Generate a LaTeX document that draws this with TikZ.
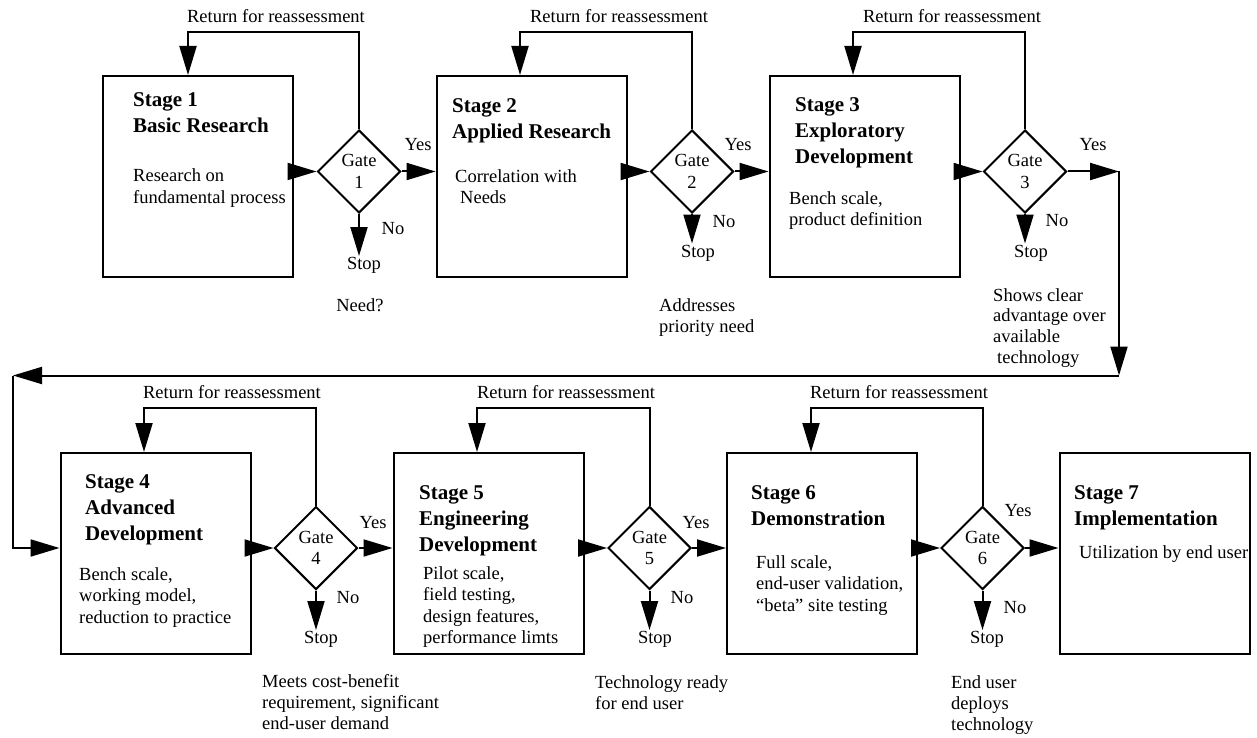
\documentclass[tikz,border=0pt]{standalone}
\usepackage{fontspec}
\setmainfont{Liberation Serif}
\usetikzlibrary{arrows.meta,shapes.geometric}
\newcommand{\mlines}[2][21.3]{{\fontsize{18.5}{#1}\selectfont\begin{tabular}[t]{@{}l@{}}#2\end{tabular}}}
\newcommand{\tlines}[1]{{\fontsize{21}{26}\selectfont\bfseries\begin{tabular}[t]{@{}l@{}}#1\end{tabular}}}
\tikzset{
  stagebox/.style={draw, line width=2pt, minimum width=190pt, minimum height=201pt, inner sep=0pt},
  gatebox/.style={diamond, draw, line width=2pt, minimum width=83pt, minimum height=83pt, inner sep=0pt, aspect=1, align=center, font=\fontsize{18.5}{21.3}\selectfont},
  arr/.style={line width=2pt, -{Triangle[length=29pt,width=17pt]}},
  txt/.style={inner sep=0pt, anchor=base west},
  lbl/.style={inner sep=0pt, anchor=base, font=\fontsize{18.5}{21.3}\selectfont},
  stoplbl/.style={inner sep=1.5pt, anchor=north, font=\fontsize{18.5}{21.3}\selectfont}
}
\begin{document}
\begin{tikzpicture}[x=1pt,y=-1pt]
\useasboundingbox (0,0) rectangle (1257,738);

% boxes
\node[stagebox] (b1) at (198,176.5) {};
\node[stagebox] (b2) at (531.5,176.5) {};
\node[stagebox] (b3) at (864.5,176.5) {};
\node[stagebox] (b4) at (155.5,553.5) {};
\node[stagebox] (b5) at (488.5,553.5) {};
\node[stagebox] (b6) at (822,553.5) {};
\node[stagebox] (b7) at (1154.5,553.5) {};

% gates
\node[gatebox] (g1) at (359,171.5) {Gate\\1};
\node[gatebox] (g2) at (692,171.5) {Gate\\2};
\node[gatebox] (g3) at (1025,171.5) {Gate\\3};
\node[gatebox] (g4) at (316,548) {Gate\\4};
\node[gatebox] (g5) at (649.5,548) {Gate\\5};
\node[gatebox] (g6) at (982.5,548) {Gate\\6};

% box texts
\node[txt] (t1) at (133,107) {\tlines{Stage 1\\Basic Research}};
\node[txt] (d1) at (133,182) {\mlines{Research on\\fundamental process}};
\node[txt] (t2) at (452,113) {\tlines{Stage 2\\Applied Research}};
\node[txt] (d2) at (455,182.5) {\mlines{Correlation with\\\hspace{5pt}Needs}};
\node[txt] (t3) at (795,111.5) {\tlines{Stage 3\\Exploratory\\Development}};
\node[txt] (d3) at (789,204.5) {\mlines{Bench scale,\\product definition}};
\node[txt] (t4) at (85,488.5) {\tlines{Stage 4\\Advanced\\Development}};
\node[txt] (d4) at (79,580.5) {\mlines{Bench scale,\\working model,\\reduction to practice}};
\node[txt] (t5) at (419,499.5) {\tlines{Stage 5\\Engineering\\Development}};
\node[txt] (d5) at (423,579.5) {\mlines{Pilot scale,\\field testing,\\design features,\\performance limts}};
\node[txt] (t6) at (751,499.5) {\tlines{Stage 6\\Demonstration}};
\node[txt] (d6) at (756,568.5) {\mlines{Full scale,\\end-user validation,\\``beta'' site testing}};
\node[txt] (t7) at (1074,499.5) {\tlines{Stage 7\\Implementation}};
\node[txt] (d7) at (1079,558.5) {\mlines{Utilization by end user}};

% box -> gate arrows
\draw[arr] (b1.east |- g1.west) -- (g1.west);
\draw[arr] (b2.east |- g2.west) -- (g2.west);
\draw[arr] (b3.east |- g3.west) -- (g3.west);
\draw[arr] (b4.east |- g4.west) -- (g4.west);
\draw[arr] (b5.east |- g5.west) -- (g5.west);
\draw[arr] (b6.east |- g6.west) -- (g6.west);

% gate -> next box (Yes)
\draw[arr] (g1.east) -- (g1.east -| b2.west);
\draw[arr] (g2.east) -- (g2.east -| b3.west);
\draw[arr] (g4.east) -- (g4.east -| b5.west);
\draw[arr] (g5.east) -- (g5.east -| b6.west);
\draw[arr] (g6.east) -- (g6.east -| b7.west);

% gate 3 -> stage 4 long connector
\coordinate (k1) at (1119,375.5);
\coordinate (k2) at (13,375.5);
\draw[arr] (g3.east) -- (g3.east -| k1);
\draw[arr] (g3.east -| k1) -- (k1);
\draw[arr] (k1) -- (k2);
\draw[arr] (k2) |- (b4.west |- g4.west);

% Yes labels
\node[lbl] (y1) at (418,151) {Yes};
\node[lbl] (y2) at (738,151) {Yes};
\node[lbl] (y3) at (1093,151) {Yes};
\node[lbl] (y4) at (373,528) {Yes};
\node[lbl] (y5) at (696,528) {Yes};
\node[lbl] (y6) at (1018,516) {Yes};

% No labels
\node[lbl] (n1) at (393,234) {No};
\node[lbl] (n2) at (724,227) {No};
\node[lbl] (n3) at (1057,226) {No};
\node[lbl] (n4) at (348,603) {No};
\node[lbl] (n5) at (682,603) {No};
\node[lbl] (n6) at (1015,613) {No};

% Stop nodes and arrows
\node[stoplbl] (s1) at (364,256) {Stop};
\node[stoplbl] (s2) at (698,243.5) {Stop};
\node[stoplbl] (s3) at (1031,243.5) {Stop};
\node[stoplbl] (s4) at (321,630) {Stop};
\node[stoplbl] (s5) at (655,630) {Stop};
\node[stoplbl] (s6) at (987,630) {Stop};
\draw[arr] (g1.south) -- (g1.south |- s1.north);
\draw[arr] (g2.south) -- (g2.south |- s2.north);
\draw[arr] (g3.south) -- (g3.south |- s3.north);
\draw[arr] (g4.south) -- (g4.south |- s4.north);
\draw[arr] (g5.south) -- (g5.south |- s5.north);
\draw[arr] (g6.south) -- (g6.south |- s6.north);

% return loops
\coordinate (r1) at (188,32);
\coordinate (r2) at (520,32);
\coordinate (r3) at (853,32);
\coordinate (r4) at (144,408);
\coordinate (r5) at (477,408);
\coordinate (r6) at (811,408);
\draw[arr] (g1.north) |- (r1) -- (r1 |- b1.north);
\draw[arr] (g2.north) |- (r2) -- (r2 |- b2.north);
\draw[arr] (g3.north) |- (r3) -- (r3 |- b3.north);
\draw[arr] (g4.north) |- (r4) -- (r4 |- b4.north);
\draw[arr] (g5.north) |- (r5) -- (r5 |- b5.north);
\draw[arr] (g6.north) |- (r6) -- (r6 |- b6.north);
\node[lbl] (rl1) at (276,23) {Return for reassessment};
\node[lbl] (rl2) at (619,23) {Return for reassessment};
\node[lbl] (rl3) at (952,23) {Return for reassessment};
\node[lbl] (rl4) at (232,398) {Return for reassessment};
\node[lbl] (rl5) at (566,398) {Return for reassessment};
\node[lbl] (rl6) at (899,398) {Return for reassessment};

% gate criteria
\node[lbl] (c1) at (360,311) {Need?};
\node[txt] (c2) at (659,311) {\mlines{Addresses\\priority need}};
\node[txt] (c3) at (993,301) {\mlines[20.7]{Shows clear\\advantage over\\available\\\hspace{4pt}technology}};
\node[txt] (c4) at (262,687) {\mlines{Meets cost-benefit\\requirement, significant\\end-user demand}};
\node[txt] (c5) at (595,688) {\mlines{Technology ready\\for end user}};
\node[txt] (c6) at (951,688) {\mlines{End user\\deploys\\technology}};
\end{tikzpicture}
\end{document}
